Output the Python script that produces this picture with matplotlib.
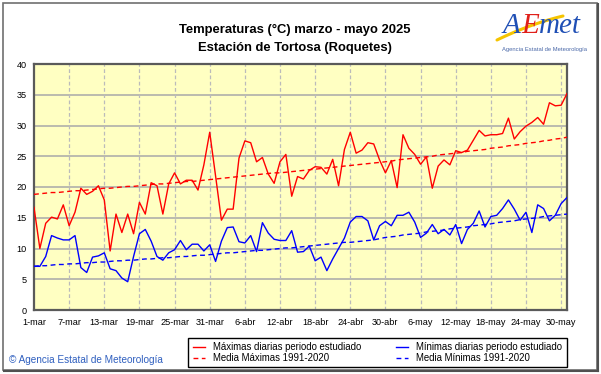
import numpy as np
import matplotlib
matplotlib.use("Agg")
import matplotlib.pyplot as plt
from matplotlib.patches import Rectangle
from matplotlib.lines import Line2D

plt.rcParams['font.family'] = ['Liberation Sans', 'DejaVu Sans']

# ---------------- data ----------------
tick_labels = ["1-mar", "7-mar", "13-mar", "19-mar", "25-mar", "31-mar", "6-abr", "12-abr",
               "18-abr", "24-abr", "30-abr", "6-may", "12-may", "18-may", "24-may", "30-may"]
tick_days = [0, 6, 12, 18, 24, 30, 36, 42, 48, 54, 60, 66, 72, 78, 84, 90]

tmax = [16.7, 10.0, 14.1, 15.1, 14.8, 17.1, 13.7, 15.9, 19.8, 18.8,
        19.3, 20.2, 17.9, 9.6, 15.6, 12.6, 15.6, 12.4, 17.5, 15.6,
        20.7, 20.2, 15.6, 20.5, 22.3, 20.5, 21.1, 21.1, 19.5, 23.6,
        28.9, 21.8, 14.6, 16.4, 16.4, 24.7, 27.5, 27.2, 24.1, 24.8,
        22.1, 20.6, 24.1, 25.3, 18.5, 21.7, 21.3, 22.7, 23.3, 23.2,
        22.1, 24.5, 20.2, 26.1, 28.9, 25.5, 26.0, 27.2, 27.0, 24.4,
        22.3, 24.3, 19.9, 28.5, 26.3, 25.3, 23.7, 24.9, 19.8, 23.4,
        24.4, 23.6, 25.9, 25.6, 26.0, 27.6, 29.2, 28.3, 28.5, 28.5,
        28.7, 31.2, 27.8, 29.0, 29.9, 30.5, 31.3, 30.2, 33.7, 33.2,
        33.3, 35.2]

tmin = [7.1, 7.1, 8.7, 12.1, 11.7, 11.4, 11.4, 12.1, 6.9, 6.1,
        8.6, 8.8, 9.3, 6.7, 6.4, 5.2, 4.6, 8.7, 12.4, 13.1,
        11.2, 8.7, 8.1, 9.3, 9.8, 11.3, 9.8, 10.7, 10.7, 9.6,
        10.6, 7.9, 11.2, 13.4, 13.5, 11.1, 10.9, 12.1, 9.5, 14.2,
        12.5, 11.5, 11.3, 11.3, 12.9, 9.4, 9.5, 10.4, 8.0, 8.6,
        6.4, 8.3, 10.0, 11.7, 14.3, 15.2, 15.2, 14.5, 11.4, 13.7,
        14.4, 13.7, 15.4, 15.4, 15.9, 14.3, 11.8, 12.5, 13.9, 12.4,
        13.1, 12.2, 13.9, 10.8, 13.1, 14.1, 16.1, 13.5, 15.2, 15.4,
        16.5, 17.9, 16.4, 14.6, 15.9, 12.6, 17.1, 16.5, 14.5, 15.4,
        17.3, 18.3]

norm_max = [18.8, 18.9, 19.0, 19.1, 19.1, 19.2, 19.3, 19.4, 19.4, 19.5,
            19.6, 19.7, 19.8, 19.8, 19.9, 20.0, 20.1, 20.1, 20.2, 20.3,
            20.4, 20.5, 20.5, 20.6, 20.7, 20.8, 20.9, 20.9, 21.0, 21.1,
            21.2, 21.3, 21.4, 21.5, 21.6, 21.7, 21.8, 21.9, 22.0, 22.1,
            22.2, 22.3, 22.3, 22.4, 22.5, 22.6, 22.7, 22.8, 22.9, 23.0,
            23.1, 23.2, 23.3, 23.4, 23.5, 23.6, 23.7, 23.8, 23.9, 24.0,
            24.1, 24.2, 24.4, 24.5, 24.6, 24.7, 24.8, 24.9, 25.0, 25.2,
            25.3, 25.4, 25.5, 25.6, 25.8, 25.9, 26.0, 26.1, 26.3, 26.4,
            26.5, 26.7, 26.8, 26.9, 27.1, 27.2, 27.3, 27.5, 27.6, 27.8,
            27.9, 28.1]

norm_min = [7.1, 7.2, 7.2, 7.3, 7.4, 7.4, 7.5, 7.5, 7.6, 7.7,
            7.7, 7.8, 7.8, 7.9, 8.0, 8.0, 8.1, 8.1, 8.2, 8.3,
            8.3, 8.4, 8.5, 8.5, 8.6, 8.7, 8.7, 8.8, 8.9, 8.9,
            9.0, 9.1, 9.2, 9.3, 9.3, 9.4, 9.5, 9.6, 9.7, 9.7,
            9.8, 9.9, 10.0, 10.1, 10.1, 10.2, 10.3, 10.4, 10.5, 10.6,
            10.7, 10.8, 10.9, 11.0, 11.0, 11.1, 11.2, 11.3, 11.4, 11.6,
            11.8, 11.9, 12.0, 12.2, 12.3, 12.4, 12.5, 12.7, 12.8, 12.9,
            13.0, 13.2, 13.3, 13.4, 13.5, 13.7, 13.8, 13.9, 14.0, 14.2,
            14.3, 14.4, 14.5, 14.7, 14.8, 14.9, 15.0, 15.2, 15.3, 15.4,
            15.5, 15.6]

labels = ["Máximas diarias periodo estudiado", "Media Máximas 1991-2020",
          "Mínimas diarias periodo estudiado", "Media Mínimas 1991-2020"]

# ---------------- figure ----------------
W, H = 601, 374
fig = plt.figure(figsize=(W / 100, H / 100), dpi=100)
fig.patch.set_facecolor('white')

def fx(px):
    return px / W

def fy(py):
    return 1 - py / H

# outer frame
fig.patches.append(Rectangle((fx(3), fy(370)), fx(597) - fx(3), fy(3) - fy(370),
                             transform=fig.transFigure, fill=False,
                             edgecolor='#707070', linewidth=1.2, zorder=0))
fig.lines.append(Line2D([fx(4), fx(598)], [fy(371), fy(371)], transform=fig.transFigure,
                        color='#505050', linewidth=1.5))
fig.lines.append(Line2D([fx(598), fx(598)], [fy(4), fy(371)], transform=fig.transFigure,
                        color='#505050', linewidth=1.5))

ax = fig.add_axes([fx(34), fy(310), fx(567) - fx(34), fy(64) - fy(310)])
ax.set_facecolor('#FFFFC2')

x = np.arange(len(tmax))
dash = (3.5, 2.5)
l1, = ax.plot(x, tmax, color='#FF0000', linewidth=1.0, zorder=4)
l2, = ax.plot(x, norm_max, color='#FF0000', linewidth=1.0, dashes=dash, zorder=3)
l3, = ax.plot(x, tmin, color='#0000FF', linewidth=1.0, zorder=4)
l4, = ax.plot(x, norm_min, color='#0000FF', linewidth=1.0, dashes=dash, zorder=3)

ax.set_xlim(0, len(tmax) - 1)
ax.set_ylim(0, 40)
ax.set_yticks(np.arange(0, 41, 5))
ax.set_xticks(tick_days)
ax.set_xticklabels(tick_labels)
ax.tick_params(axis='both', length=0, labelsize=6.6, colors='black')
ax.tick_params(axis='x', pad=6)
ax.tick_params(axis='y', pad=5)

for yv in range(5, 40, 5):
    ax.axhline(yv, color='#A8A8A8', linewidth=1.1, zorder=1)
for xv in tick_days[1:]:
    ax.axvline(xv, color='#BBBBBB', linewidth=0.9, dashes=(3, 2), zorder=1)

for s in ax.spines.values():
    s.set_color('#5A5A5A')
    s.set_linewidth(1.6)

# titles
fig.text(fx(295), fy(29.5), "Temperaturas (°C) marzo - mayo 2025", ha='center', va='center',
         fontsize=9.4, fontweight='bold')
fig.text(fx(295), fy(48.5), "Estación de Tortosa (Roquetes)", ha='center', va='center',
         fontsize=9.4, fontweight='bold')

# logo
t = np.linspace(0, 1, 30)
sx = 497 + 66 * t
sy = 40 - 24 * t - 8 * t * (1 - t)
fig.lines.append(Line2D(fx(sx), fy(sy), transform=fig.transFigure, color='#F5C400',
                        linewidth=2.2, solid_capstyle='round'))
fig.text(fx(503), fy(33), "A", color='#1F4FB5', fontsize=21, fontstyle='italic',
         family='Liberation Serif', ha='left', va='baseline')
fig.text(fx(521), fy(33), "E", color='#E0201A', fontsize=21, fontstyle='italic',
         family='Liberation Serif', ha='left', va='baseline')
fig.text(fx(539), fy(33), "met", color='#1F4FB5', fontsize=21, fontstyle='italic',
         family='Liberation Serif', ha='left', va='baseline')
fig.text(fx(544), fy(50), "Agencia Estatal de Meteorología", color='#4A68A8', fontsize=4.2,
         ha='center', va='center')

# copyright
fig.text(fx(9), fy(360), "© Agencia Estatal de Meteorología", color='#2F5FBF', fontsize=7.2,
         ha='left', va='center')

# legend
leg = fig.legend([l1, l2, l3, l4], labels, ncol=2, loc='center',
                 bbox_to_anchor=(fx(377.5), fy(352.5)), fontsize=6.9,
                 frameon=True, fancybox=False, edgecolor='black', framealpha=1,
                 handlelength=1.3, handletextpad=0.85, columnspacing=3.6,
                 labelspacing=0.12, borderpad=0.45)
leg.get_frame().set_linewidth(1.0)

fig.savefig("out.png", dpi=100)
